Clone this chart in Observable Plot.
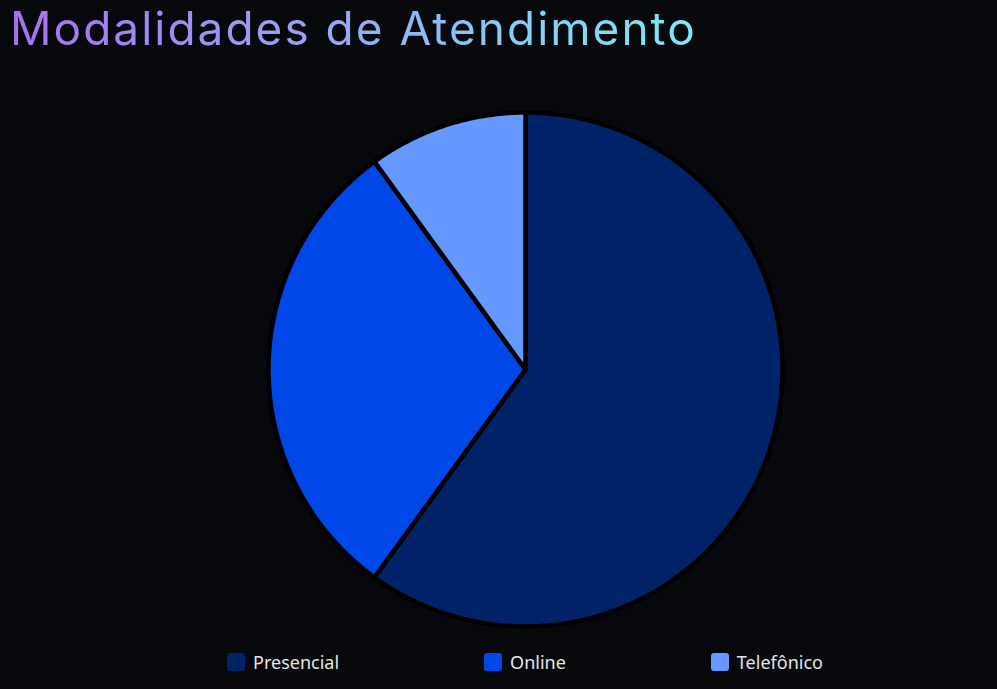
<!DOCTYPE html>
<html>
<head>
<meta charset="utf-8">
<script src="https://cdn.jsdelivr.net/npm/d3@7"></script>
<script src="https://cdn.jsdelivr.net/npm/@observablehq/plot@0.6"></script>
<style>
  html, body { margin: 0; padding: 0; background: #07080c; width: 997px; height: 689px; overflow: hidden; }
  #title {
    position: absolute; left: 10px; top: 0px; margin: 0;
    font-family: "Inter", sans-serif; font-weight: 400; font-size: 46px; line-height: normal; letter-spacing: 2px;
    background: linear-gradient(90deg, #a670f0 0%, #98a6f4 45%, #86c8f5 70%, #7cecf0 100%);
    -webkit-background-clip: text; background-clip: text; color: transparent;
    white-space: nowrap;
  }
  #chart { position: absolute; left: 0; top: 56px; }
  #legend {
    position: absolute; left: 0; top: 650px; width: 1050px;
    display: flex; justify-content: center; gap: 145px;
    font-family: "Noto Sans", sans-serif; font-size: 18px; color: #e6e6e6;
  }
  .item { display: flex; align-items: center; }
  .sw { width: 18px; height: 18px; border-radius: 3px; margin-right: 8px; }
</style>
</head>
<body>
<h1 id="title">Modalidades de Atendimento</h1>
<div id="chart"></div>
<div id="legend"></div>
<script>
const categories = ["Presencial", "Online", "Telefônico"];
const values = [60, 30, 10];
const colors = ["#002266", "#0047e8", "#6699ff"];

const pie = d3.pie().sort(null).value(d => d.value).startAngle(0).endAngle(2 * Math.PI);
const arcs = pie(categories.map((c, i) => ({category: c, value: values[i]})));

const pts = [];
for (const a of arcs) {
  const cat = a.data.category;
  pts.push({category: cat, x: 0, y: 0});
  const n = Math.max(2, Math.ceil((a.endAngle - a.startAngle) / 0.01));
  for (let k = 0; k <= n; k++) {
    const t = a.startAngle + (a.endAngle - a.startAngle) * k / n;
    pts.push({category: cat, x: Math.sin(t), y: Math.cos(t)});
  }
}

const chart = Plot.plot({
  width: 997,
  height: 600,
  marginLeft: 268,
  marginRight: 215,
  marginTop: 56,
  marginBottom: 30,
  style: {background: "transparent"},
  x: {domain: [-1, 1], axis: null},
  y: {domain: [-1, 1], axis: null},
  color: {domain: categories, range: colors},
  marks: [
    Plot.line(pts, {x: "x", y: "y", z: "category", fill: "category", stroke: "#000", strokeWidth: 4.5, strokeLinejoin: "round", curve: "linear-closed"})
  ]
});
document.getElementById("chart").appendChild(chart);

const legend = document.getElementById("legend");
categories.forEach((c, i) => {
  const it = document.createElement("div");
  it.className = "item";
  const sw = document.createElement("div");
  sw.className = "sw";
  sw.style.background = colors[i];
  const lb = document.createElement("span");
  lb.textContent = c;
  it.appendChild(sw); it.appendChild(lb);
  legend.appendChild(it);
});
</script>
</body>
</html>
